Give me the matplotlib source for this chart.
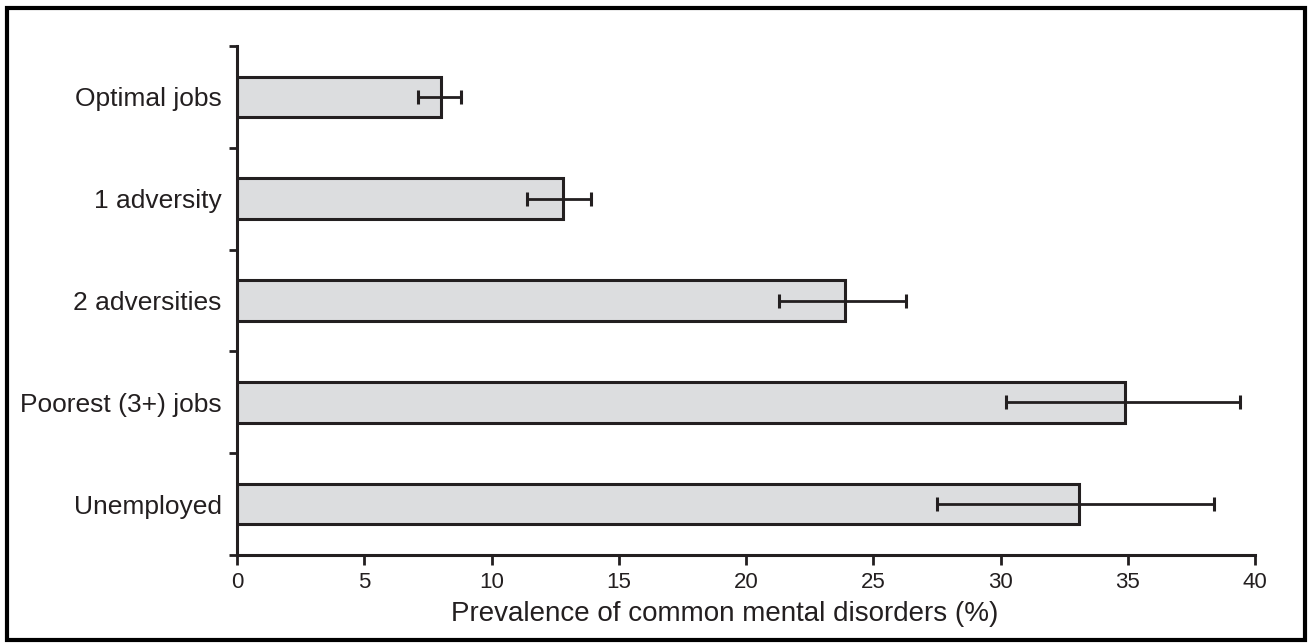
import matplotlib.pyplot as plt
import numpy as np
from matplotlib.patches import Rectangle

# data
groups = ["Optimal jobs", "1 adversity", "2 adversities", "Poorest (3+) jobs", "Unemployed"]
prevalence = [8.0, 12.8, 23.9, 34.9, 33.1]
ci_low = [7.1, 11.4, 21.3, 30.2, 27.5]
ci_high = [8.8, 13.9, 26.3, 39.4, 38.4]
xticks = [0, 5, 10, 15, 20, 25, 30, 35, 40]

ink = "#231f20"
plt.rcParams['font.family'] = ['Liberation Sans', 'DejaVu Sans']

fig = plt.figure(figsize=(13.11, 6.44), dpi=100)
ax = fig.add_axes([237/1311, 1 - 555/644, (1255 - 237)/1311, (555 - 46)/644])

y = np.arange(len(groups))
vals = np.array(prevalence)
xerr = [vals - np.array(ci_low), np.array(ci_high) - vals]

ax.barh(y, vals, height=0.4, color="#dcdddf", edgecolor=ink, linewidth=2.2, zorder=2)
ax.errorbar(vals, y, xerr=xerr, fmt="none", ecolor=ink, elinewidth=2.0,
            capsize=4.8, capthick=2.2, zorder=3)

ax.set_xlim(0, 40)
ax.set_ylim(4.5, -0.5)
ax.set_xticks(xticks)
ax.set_xticklabels([str(t) for t in xticks])
ax.set_yticks(y)
ax.set_yticklabels(groups)
ax.set_yticks(np.arange(-0.5, len(groups), 1.0), minor=True)
ax.tick_params(axis="y", which="major", length=0, pad=11, labelsize=19, labelcolor=ink)
ax.tick_params(axis="y", which="minor", length=6, width=2, color=ink, direction="out")
ax.tick_params(axis="x", length=7, width=2, color=ink, labelsize=16, labelcolor=ink, pad=5)

for s in ["top", "right"]:
    ax.spines[s].set_visible(False)
for s in ["left", "bottom"]:
    ax.spines[s].set_linewidth(2.2)
    ax.spines[s].set_color(ink)

ax.set_xlabel("Prevalence of common mental disorders (%)", fontsize=20, color=ink)
ax.xaxis.set_label_coords(0.479, -0.09)

# frame around the whole figure
fig.patches.append(Rectangle((7/1311, 4/644), 1 - 13/1311, 1 - 12/644,
                             transform=fig.transFigure, fill=False,
                             edgecolor="black", linewidth=3))

fig.savefig("out.png", dpi=100)
